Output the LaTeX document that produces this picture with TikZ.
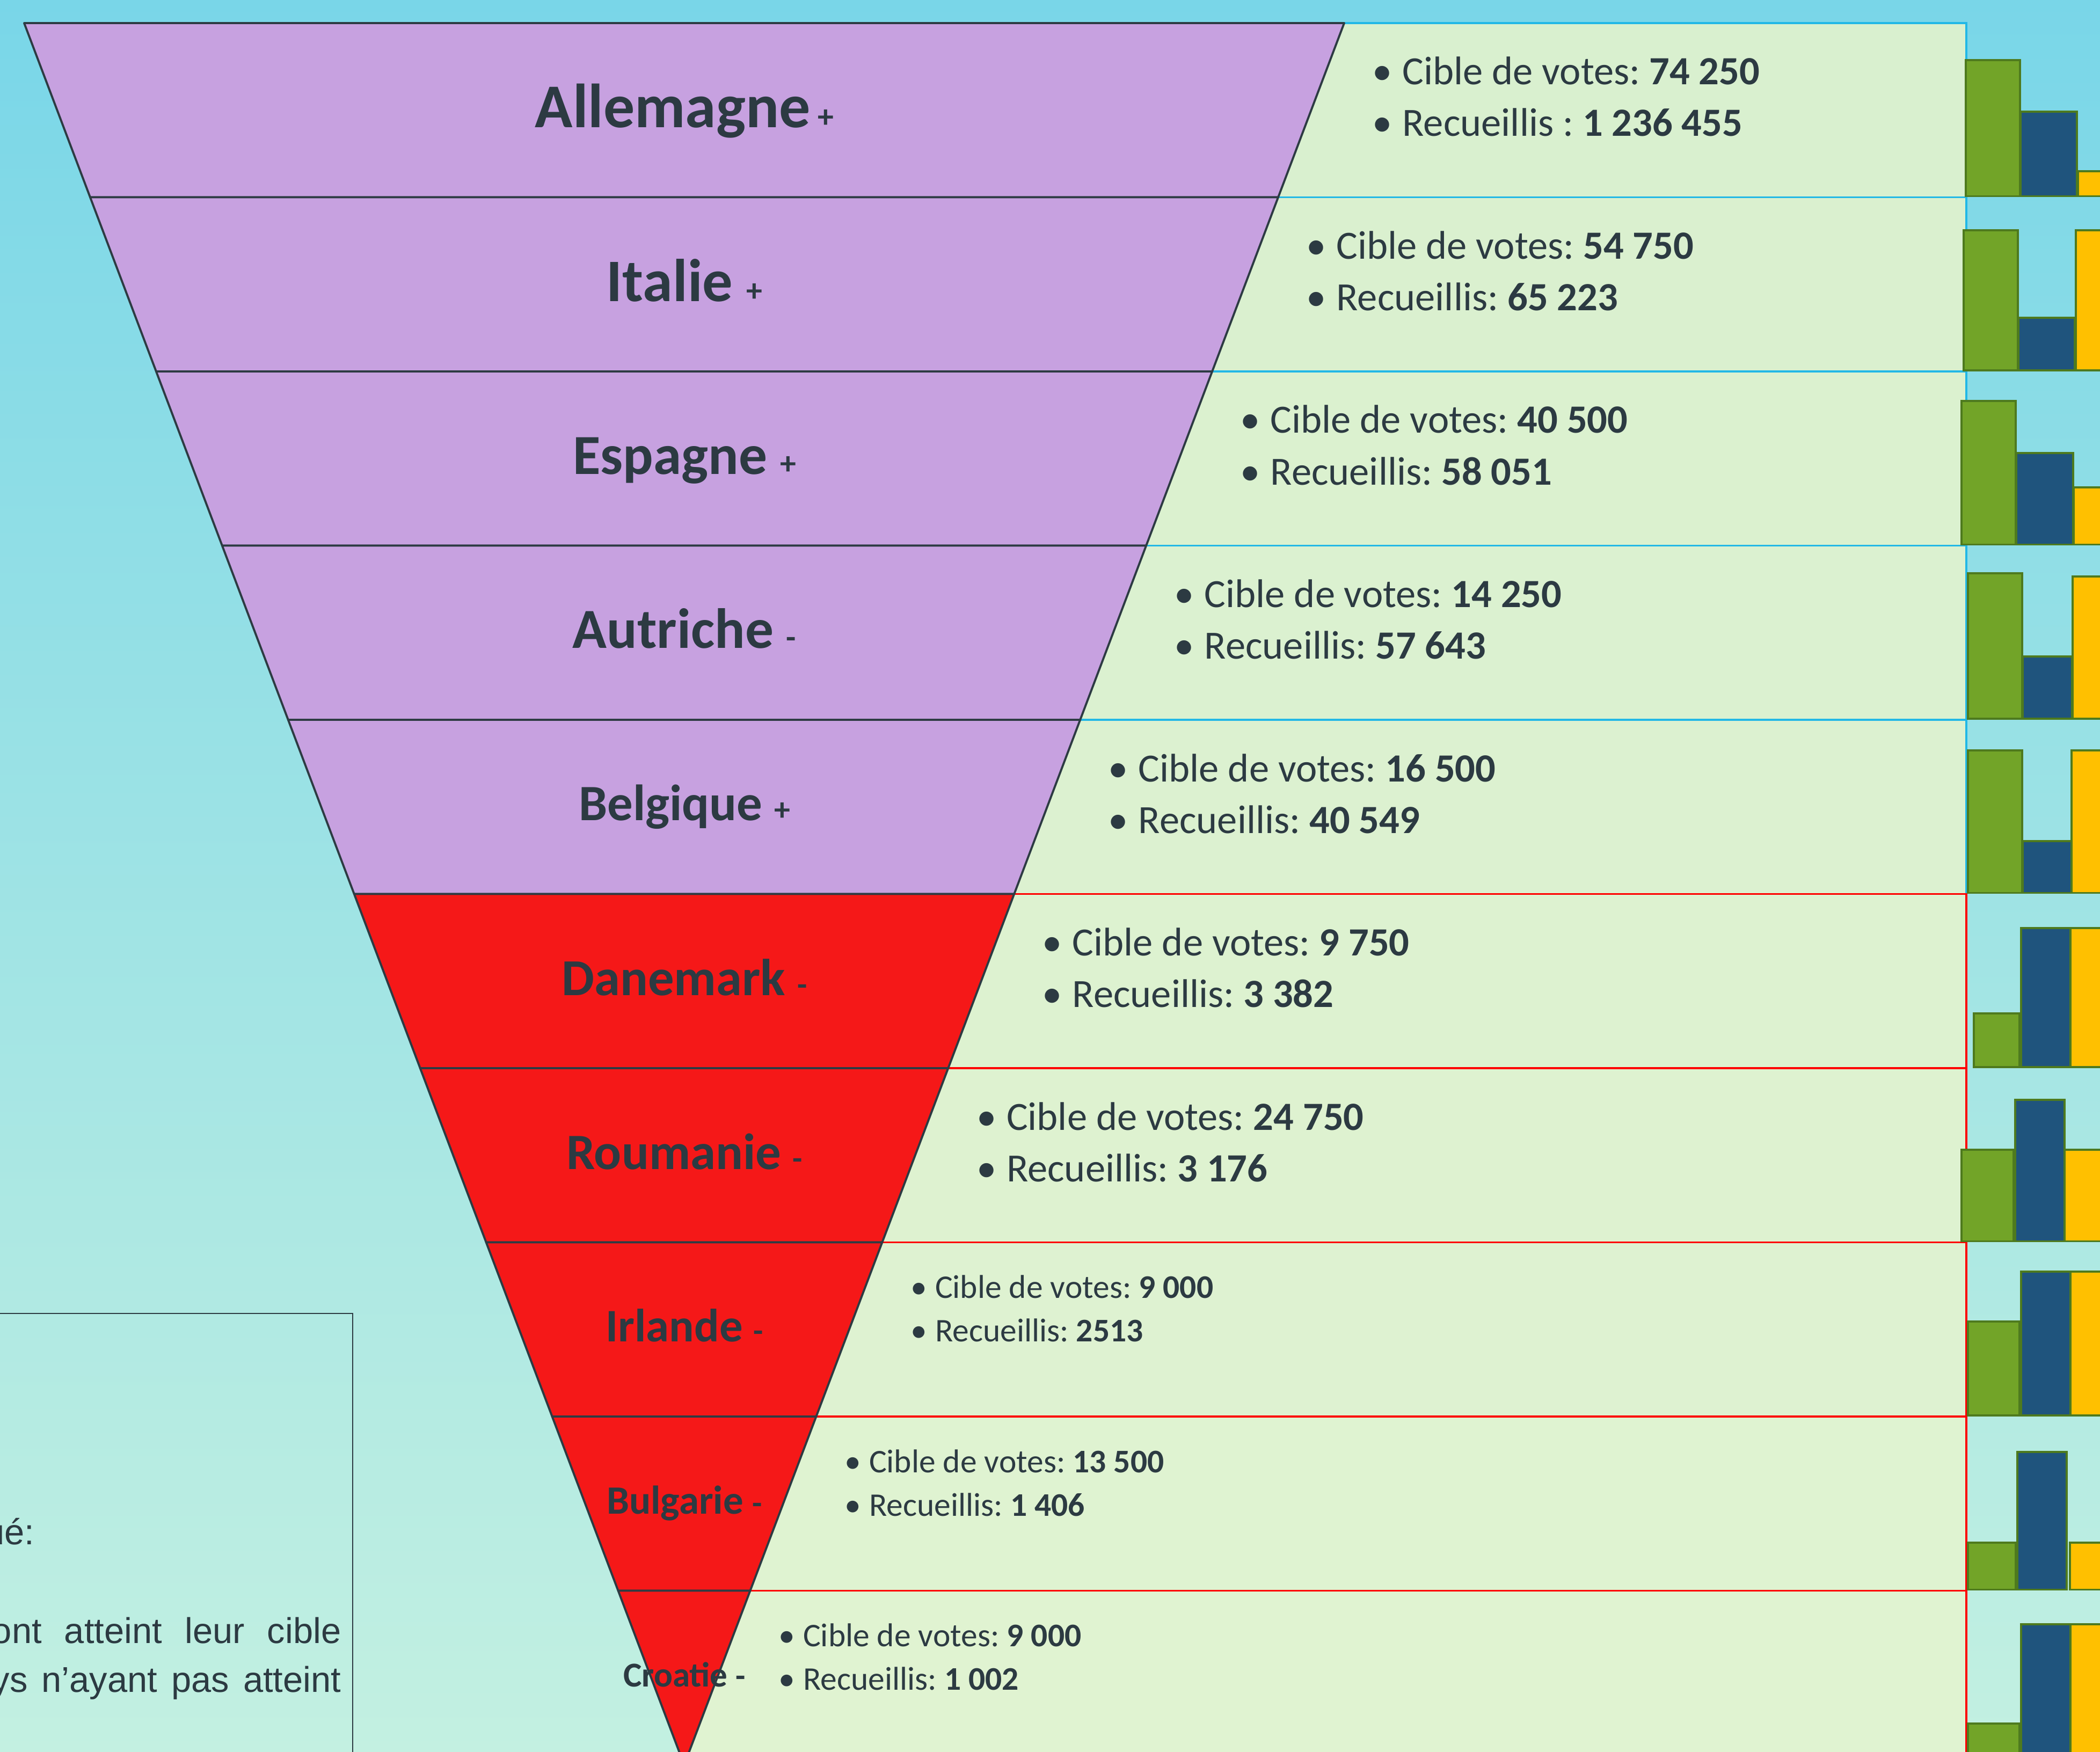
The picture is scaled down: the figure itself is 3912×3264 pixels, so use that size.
\documentclass[tikz,border=0pt]{standalone}
\usepackage{fontspec}
\setmainfont{Carlito}
\newfontfamily\legfont{Liberation Sans}
\frenchspacing
\definecolor{bgtop}{HTML}{79D6E8}
\definecolor{bgmid}{HTML}{9EE7D3}
\definecolor{bgbot}{HTML}{C3F0E1}
\definecolor{panA}{HTML}{D9F0CF}
\definecolor{panB}{HTML}{E0F3D1}
\definecolor{cyanb}{HTML}{22B8E6}
\definecolor{redb}{HTML}{FF0000}
\definecolor{pur}{HTML}{C7A1E0}
\definecolor{redf}{HTML}{F51818}
\definecolor{segline}{HTML}{2D3B43}
\definecolor{txt}{HTML}{2C3A42}
\definecolor{bgreen}{HTML}{72A428}
\definecolor{bblue}{HTML}{1F547D}
\definecolor{byellow}{HTML}{FFC000}
\definecolor{bedge}{HTML}{4E7A1E}
\tikzset{
  panelbox/.style={line width=1.1pt},
  seg/.style={draw=segline, line width=1.1pt, line join=round},
  lab/.style={anchor=base, inner sep=0pt, text=txt},
  ptext/.style={anchor=base west, inner sep=0pt, text=txt},
  barbox/.style={draw=bedge, line width=1.1pt},
  legbox/.style={draw=segline, line width=0.6pt},
  legtext/.style={inner sep=0pt, text=txt, font=\legfont\fontsize{19pt}{19pt}\selectfont},
}
\begin{document}
\begin{tikzpicture}[x=0.01cm,y=-0.01cm]
\useasboundingbox (0,0) rectangle (3912,3264);
\clip (0,0) rectangle (3912,3264);
\shade[top color=bgtop, middle color=bgmid, bottom color=bgbot] (0,0) rectangle (3912,3264);

% panels
\foreach \i in {1,...,5} {
  \pgfmathsetmacro\ty{43+324.5*(\i-1)}
  \pgfmathsetmacro\by{\ty+324.5}
  \pgfmathtruncatemacro\mix{100-11*(\i-1)}
  \draw[panelbox, draw=cyanb, fill=panA!\mix!panB] (1275,\ty) rectangle (3663,\by);
}
\foreach \i in {6,...,10} {
  \pgfmathsetmacro\ty{43+324.5*(\i-1)}
  \pgfmathsetmacro\by{\ty+324.5}
  \pgfmathtruncatemacro\mix{100-11*(\i-1)}
  \draw[panelbox, draw=redb, fill=panA!\mix!panB] (1275,\ty) rectangle (3663,\by);
}

% funnel segments
\foreach \i/\col in {1/pur,2/pur,3/pur,4/pur,5/pur,6/redf,7/redf,8/redf,9/redf,10/redf} {
  \pgfmathsetmacro\ty{43+324.5*(\i-1)}
  \pgfmathsetmacro\by{\ty+324.5}
  \pgfmathsetmacro\xlt{45+0.378891*(\ty-43)}
  \pgfmathsetmacro\xrt{2504-0.378891*(\ty-43)}
  \pgfmathsetmacro\xlb{45+0.378891*(\by-43)}
  \pgfmathsetmacro\xrb{2504-0.378891*(\by-43)}
  \filldraw[seg, fill=\col] (\xlt,\ty) -- (\xrt,\ty) -- (\xrb,\by) -- (\xlb,\by) -- cycle;
}

% country labels
\node[lab, font=\fontsize{33pt}{33pt}\selectfont\bfseries] (lab1) at (1275,{43+158+0.316*33/0.28453}) {Allemagne{\fontsize{17pt}{17pt}\selectfont\ +}};
\foreach \i/\nm/\sz/\sg in {2/Italie/32/+,3/Espagne/30/+,4/Autriche/30/-,5/Belgique/27/+,6/Danemark/27.5/-,7/Roumanie/27/-,8/Irlande/24.7/-,9/Bulgarie/21.3/-,10/Croatie/18.5/-} {
  \pgfmathsetmacro\ty{43+324.5*(\i-1)}
  \pgfmathsetmacro\ly{\ty+158+0.316*\sz/0.28453}
  \node[lab, font=\fontsize{\sz pt}{\sz pt}\selectfont\bfseries] (lab\i) at (1275,\ly) {\nm\ {\fontsize{17pt}{17pt}\selectfont\sg}};
}

% panel texts
\foreach \i/\c/\r/\big in {1/{74 250}/{Recueillis : \textbf{1 236 455}}/1,
  2/{54 750}/{Recueillis: \textbf{65 223}}/1,
  3/{40 500}/{Recueillis: \textbf{58 051}}/1,
  4/{14 250}/{Recueillis: \textbf{57 643}}/1,
  5/{16 500}/{Recueillis: \textbf{40 549}}/1,
  6/{9 750}/{Recueillis: \textbf{3 382}}/1,
  7/{24 750}/{Recueillis: \textbf{3 176}}/1,
  8/{9 000}/{Recueillis: \textbf{2513}}/0,
  9/{13 500}/{Recueillis: \textbf{1 406}}/0,
  10/{9 000}/{Recueillis: \textbf{1 002}}/0} {
  \pgfmathsetmacro\ty{43+324.5*(\i-1)}
  \pgfmathsetmacro\bx{2504-0.378891*(\ty-43)+60-8}
  \pgfmathsetmacro\fs{\big==1?21.2:17.5}
  \pgfmathsetmacro\dya{\big==1?115:104}
  \pgfmathsetmacro\dyb{\big==1?211:185}
  \pgfmathsetmacro\gap{\big==1?0.56:0.46}
  \node[ptext, font=\fontsize{\fs pt}{\fs pt}\selectfont] (ca\i) at (\bx,\ty+\dya) {\makebox[\gap cm][l]{•}Cible de votes: \textbf{\c}};
  \node[ptext, font=\fontsize{\fs pt}{\fs pt}\selectfont] (cb\i) at (\bx,\ty+\dyb) {\makebox[\gap cm][l]{•}\r};
}

% bars
\foreach \i/\ga/\gb/\gt/\ba/\bb/\bt/\ya/\yt in {
  1/3662/3763/112/3764/3869/208/3871/319,
  2/3658/3759/429/3760/3865/592/3867/429,
  3/3654/3755/747/3756/3862/844/3863/908,
  4/3666/3767/1068/3768/3860/1223/3861/1074,
  5/3666/3767/1398/3768/3859/1567/3859/1398,
  6/3677/3762/1888/3765/3857/1729/3857/1729,
  7/3654/3751/2142/3754/3846/2049/3846/2142,
  8/3666/3762/2462/3765/3857/2369/3857/2369,
  9/3666/3755/2874/3758/3850/2705/3856/2874,
  10/3666/3762/3211/3765/3857/3026/3857/3026} {
  \pgfmathsetmacro\bby{43+324.5*\i-2}
  \draw[barbox, fill=bgreen] (\ga,\gt) rectangle (\gb,\bby);
  \draw[barbox, fill=bblue] (\ba,\bt) rectangle (\bb,\bby);
  \draw[barbox, fill=byellow] (\ya,\yt) rectangle (3960,\bby);
}

% legend box (partly outside)
\draw[legbox] (-20,2447) rectangle (657,3320);
\node[legtext, anchor=base east] (leg1) at (65,2877) {ué:};
\node[legtext, anchor=base east] (leg2) at (636,3061) {\makebox[6.5cm][s]{ont atteint leur cible}};
\node[legtext, anchor=base east] (leg3) at (636,3152) {\makebox[6.5cm][s]{ys n’ayant pas atteint}};
\end{tikzpicture}
\end{document}
